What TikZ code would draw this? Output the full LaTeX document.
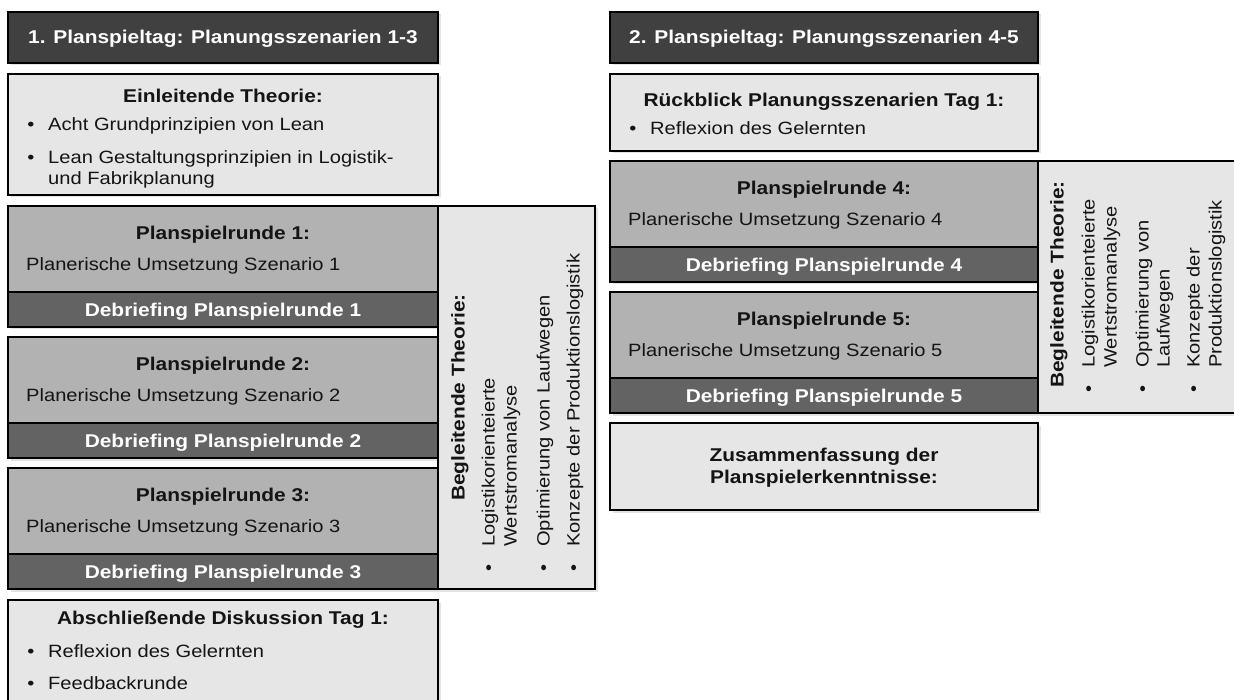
\documentclass[tikz,border=0pt]{standalone}
\usepackage{fontspec}
\setmainfont{Liberation Sans}[FakeStretch=1.13]
\usetikzlibrary{shadows}
\definecolor{hdr}{RGB}{64,64,64}
\definecolor{lite}{RGB}{230,230,230}
\definecolor{mid}{RGB}{178,178,178}
\definecolor{dark}{RGB}{99,99,99}
\definecolor{ink}{RGB}{20,20,20}
\newcommand\myB{\fontsize{18.5}{22}\selectfont\bfseries}
\newcommand\myN{\fontsize{17.8}{21}\selectfont}
\begin{document}
\begin{tikzpicture}[x=1pt,y=-1pt,
  box/.style={draw=black, line width=1.3pt, inner sep=0pt, outer sep=0pt,
    drop shadow={opacity=0.22,shadow xshift=2.5pt,shadow yshift=-2.5pt}},
  hdrbox/.style={box, fill=hdr},
  litebox/.style={box, fill=lite},
  midbox/.style={box, fill=mid},
  darkbox/.style={box, fill=dark},
  btitle/.style={font=\myB, text=ink, inner sep=0pt, anchor=base},
  wtitle/.style={font=\myB, text=white, inner sep=0pt, anchor=base},
  body/.style={font=\myN, text=ink, inner sep=0pt, anchor=base west},
  bul/.style={font=\myN, text=ink, inner sep=0pt, anchor=base},
  rbody/.style={body, rotate=90},
  rbul/.style={bul, rotate=90},
]
\useasboundingbox (0,0) rectangle (1234,700);
\clip (0,0) rectangle (1234,700);

% ---------------- left column boxes
\node[hdrbox, minimum width=430pt, minimum height=51pt] (h1) at (223,37.5) {};
\node[litebox, minimum width=430pt, minimum height=121pt] (ein) at (223,134.5) {};
\node[midbox, minimum width=430pt, minimum height=86pt] (p1) at (223,249) {};
\node[darkbox, minimum width=430pt, minimum height=35pt] (d1) at (223,309.5) {};
\node[midbox, minimum width=430pt, minimum height=86pt] (p2) at (223,380) {};
\node[darkbox, minimum width=430pt, minimum height=35pt] (d2) at (223,440.5) {};
\node[midbox, minimum width=430pt, minimum height=86pt] (p3) at (223,511) {};
\node[darkbox, minimum width=430pt, minimum height=35pt] (d3) at (223,571.5) {};
\node[litebox, minimum width=430pt, minimum height=115pt] (abs) at (223,657.5) {};
\node[litebox, minimum width=157pt, minimum height=383pt] (beg1) at (516.5,397.5) {};

% ---------------- right column boxes
\node[hdrbox, minimum width=428pt, minimum height=51pt] (h2) at (824,37.5) {};
\node[litebox, minimum width=428pt, minimum height=77pt] (rueck) at (824,112.5) {};
\node[midbox, minimum width=428pt, minimum height=86pt] (p4) at (824,204) {};
\node[darkbox, minimum width=428pt, minimum height=35pt] (d4) at (824,264.5) {};
\node[midbox, minimum width=428pt, minimum height=86pt] (p5) at (824,335) {};
\node[darkbox, minimum width=428pt, minimum height=35pt] (d5) at (824,395.5) {};
\node[litebox, minimum width=428pt, minimum height=87pt] (zus) at (824,466.5) {};
\node[litebox, minimum width=222pt, minimum height=252pt] (beg2) at (1149,287) {};

% ---------------- left column texts
\node[wtitle] (h1t) at (223,43.5) {1. Planspieltag: Planungsszenarien 1-3};
\node[btitle] (eint) at (223,102.5) {Einleitende Theorie:};
\node[bul] (einb1) at (31,130.5) {•};
\node[body] (eini1) at (48,130.5) {Acht Grundprinzipien von Lean};
\node[bul] (einb2) at (31,163.5) {•};
\node[body] (eini2) at (48,163.5) {Lean Gestaltungsprinzipien in Logistik-};
\node[body] (eini3) at (48,184.5) {und Fabrikplanung};

\node[btitle] (p1t) at (223,239.5) {Planspielrunde 1:};
\node[body] (p1b) at (26,270.5) {Planerische Umsetzung Szenario 1};
\node[wtitle] (d1t) at (223,316.5) {Debriefing Planspielrunde 1};
\node[btitle] (p2t) at (223,370.5) {Planspielrunde 2:};
\node[body] (p2b) at (26,401.5) {Planerische Umsetzung Szenario 2};
\node[wtitle] (d2t) at (223,447.5) {Debriefing Planspielrunde 2};
\node[btitle] (p3t) at (223,501.5) {Planspielrunde 3:};
\node[body] (p3b) at (26,532.5) {Planerische Umsetzung Szenario 3};
\node[wtitle] (d3t) at (223,578.5) {Debriefing Planspielrunde 3};

\node[btitle] (abst) at (223,624.5) {Abschließende Diskussion Tag 1:};
\node[bul] (absb1) at (31,657.5) {•};
\node[body] (absi1) at (48,657.5) {Reflexion des Gelernten};
\node[bul] (absb2) at (31,689.5) {•};
\node[body] (absi2) at (48,689.5) {Feedbackrunde};

% rotated accompanying theory, day 1
\node[btitle, rotate=90] (beg1t) at (464.5,397.5) {Begleitende Theorie:};
\node[rbul] (beg1b1) at (494.5,568) {•};
\node[rbody] (beg1i1) at (494.5,547) {Logistikorienteierte};
\node[rbody] (beg1i1b) at (516.5,547) {Wertstromanalyse};
\node[rbul] (beg1b2) at (549.5,568) {•};
\node[rbody] (beg1i2) at (549.5,547) {Optimierung von Laufwegen};
\node[rbul] (beg1b3) at (579.5,568) {•};
\node[rbody] (beg1i3) at (579.5,547) {Konzepte der Produktionslogistik};

% ---------------- right column texts
\node[wtitle] (h2t) at (824,43.5) {2. Planspieltag: Planungsszenarien 4-5};
\node[btitle] (rueckt) at (824,106.5) {Rückblick Planungsszenarien Tag 1:};
\node[bul] (rueckb1) at (633,134.5) {•};
\node[body] (rucki1) at (650,134.5) {Reflexion des Gelernten};

\node[btitle] (p4t) at (824,194.5) {Planspielrunde 4:};
\node[body] (p4b) at (628,225.5) {Planerische Umsetzung Szenario 4};
\node[wtitle] (d4t) at (824,271.5) {Debriefing Planspielrunde 4};
\node[btitle] (p5t) at (824,325.5) {Planspielrunde 5:};
\node[body] (p5b) at (628,356.5) {Planerische Umsetzung Szenario 5};
\node[wtitle] (d5t) at (824,402.5) {Debriefing Planspielrunde 5};

\node[btitle] (zust1) at (824,461.5) {Zusammenfassung der};
\node[btitle] (zust2) at (824,483.5) {Planspielerkenntnisse:};

% rotated accompanying theory, day 2
\node[font=\myB, text=ink, inner sep=0pt, anchor=base west, rotate=90] (beg2t) at (1063.5,388) {Begleitende Theorie:};
\node[rbul] (beg2b1) at (1094.5,389) {•};
\node[rbody] (beg2i1) at (1094.5,368) {Logistikorienteierte};
\node[rbody] (beg2i1b) at (1116.5,368) {Wertstromanalyse};
\node[rbul] (beg2b2) at (1148.5,389) {•};
\node[rbody] (beg2i2) at (1148.5,368) {Optimierung von};
\node[rbody] (beg2i2b) at (1169.5,368) {Laufwegen};
\node[rbul] (beg2b3) at (1199.5,389) {•};
\node[rbody] (beg2i3) at (1199.5,368) {Konzepte der};
\node[rbody] (beg2i3b) at (1221.5,368) {Produktionslogistik};
\end{tikzpicture}
\end{document}
